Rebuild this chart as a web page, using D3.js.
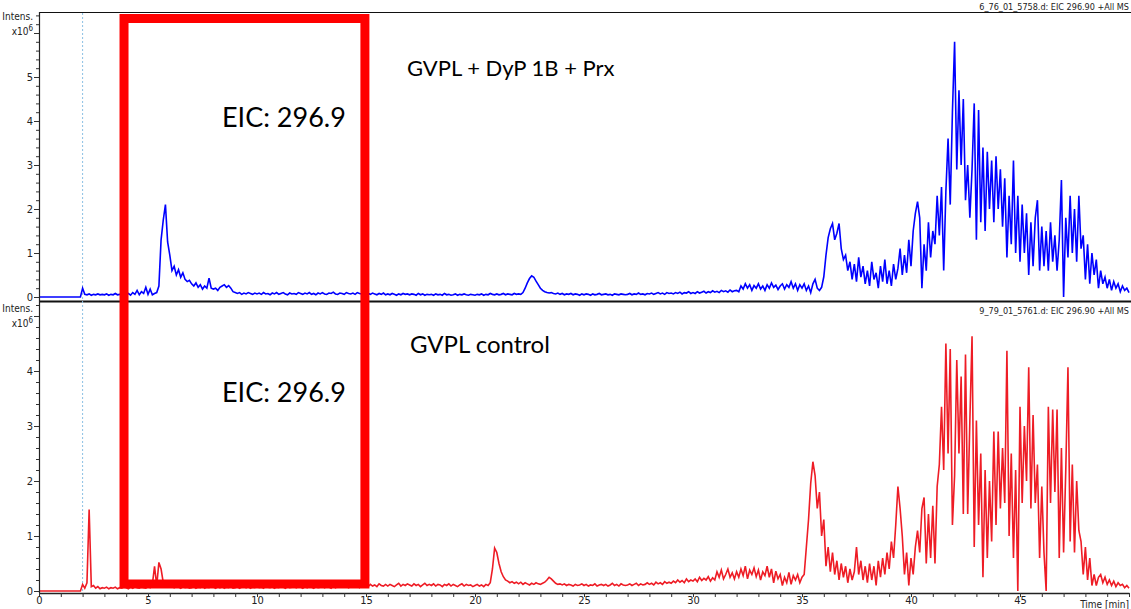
<!DOCTYPE html>
<html>
<head>
<meta charset="utf-8">
<script src="https://cdn.jsdelivr.net/npm/d3@7"></script>
<style>
  body { margin: 0; background: #fff; }
  svg { display: block; }
  .axis text, .lbl { font-family: "Liberation Sans Narrow", "Arial Narrow", "DejaVu Sans Condensed", sans-serif; font-size: 11px; fill: #222; }
  .note { font-family: Lato, Carlito, Calibri, "Open Sans", sans-serif; font-size: 22px; fill: #000; }
</style>
</head>
<body>
<svg width="1131" height="609"></svg>
<script>
// EIC traces, intensity in x10^6, one value every 0.1 min from 0 to 50 min
const step = 0.1;

// GVPL + DyP 1B + Prx (blue)
const blueValues = [
  0,0,0,0,0,0,0,0,0,0,
  0,0,0,0,0,0,0,0,0,0,
  0.2,0.06,0.05,0.07,0.04,0.06,0.05,0.07,0.05,0.06,
  0.05,0.07,0.04,0.06,0.05,0.08,0.05,0.06,0.04,0.07,
  0.05,0.08,0.04,0.1,0.06,0.15,0.05,0.12,0.08,0.22,
  0.06,0.18,0.05,0.08,0.1,0.25,1.3,1.75,2.1,1.25,
  0.95,0.6,0.7,0.5,0.62,0.45,0.55,0.4,0.35,0.38,
  0.3,0.25,0.32,0.22,0.28,0.18,0.25,0.2,0.43,0.2,
  0.18,0.2,0.15,0.22,0.25,0.28,0.22,0.26,0.2,0.12,
  0.1,0.08,0.1,0.06,0.09,0.07,0.1,0.08,0.06,0.09,
  0.07,0.09,0.06,0.1,0.07,0.08,0.05,0.09,0.07,0.1,
  0.06,0.08,0.1,0.07,0.05,0.09,0.07,0.08,0.06,0.1,
  0.08,0.06,0.09,0.07,0.1,0.06,0.08,0.05,0.09,0.07,
  0.1,0.07,0.06,0.09,0.08,0.11,0.07,0.06,0.09,0.08,
  0.06,0.1,0.08,0.07,0.09,0.06,0.1,0.08,0.07,0.09,
  0.05,0.08,0.06,0.09,0.07,0.05,0.08,0.06,0.09,0.05,
  0.07,0.05,0.08,0.06,0.04,0.07,0.05,0.08,0.06,0.07,
  0.05,0.07,0.06,0.04,0.08,0.05,0.07,0.04,0.06,0.05,
  0.06,0.04,0.07,0.05,0.06,0.04,0.08,0.05,0.06,0.04,
  0.05,0.07,0.04,0.06,0.05,0.07,0.05,0.04,0.06,0.05,
  0.04,0.06,0.05,0.07,0.04,0.06,0.05,0.08,0.06,0.05,
  0.07,0.05,0.06,0.08,0.05,0.07,0.06,0.05,0.08,0.06,
  0.07,0.06,0.1,0.2,0.32,0.42,0.48,0.45,0.36,0.28,
  0.2,0.15,0.12,0.1,0.09,0.1,0.08,0.07,0.09,0.06,
  0.08,0.05,0.07,0.06,0.08,0.05,0.07,0.06,0.04,0.07,
  0.05,0.07,0.06,0.04,0.07,0.05,0.06,0.08,0.05,0.06,
  0.07,0.05,0.06,0.04,0.07,0.06,0.05,0.07,0.06,0.05,
  0.06,0.08,0.05,0.07,0.06,0.09,0.06,0.07,0.05,0.08,
  0.07,0.09,0.06,0.08,0.1,0.07,0.09,0.06,0.1,0.08,
  0.09,0.07,0.1,0.08,0.11,0.07,0.1,0.09,0.12,0.08,
  0.1,0.08,0.12,0.09,0.11,0.13,0.09,0.12,0.1,0.14,
  0.11,0.13,0.1,0.15,0.12,0.14,0.11,0.16,0.12,0.14,
  0.15,0.12,0.25,0.18,0.3,0.2,0.28,0.15,0.26,0.2,
  0.3,0.18,0.25,0.15,0.28,0.2,0.32,0.22,0.27,0.17,
  0.25,0.3,0.18,0.28,0.22,0.35,0.2,0.3,0.15,0.28,
  0.2,0.3,0.15,0.25,0.1,0.3,0.4,0.2,0.15,0.22,
  0.46,0.95,1.35,1.55,1.67,1.3,1.45,1.67,1.1,0.85,
  0.95,0.6,0.8,0.4,0.75,0.35,0.9,0.45,0.7,0.3,
  0.6,0.25,0.8,0.4,0.55,0.2,0.7,0.35,0.85,0.3,
  0.6,0.25,0.75,0.4,0.65,1.1,0.5,0.95,0.55,1.3,
  0.7,1.5,1.9,2.17,1.8,0.2,1.2,0.6,1.7,0.9,
  1.5,1.2,2.3,1.4,2.5,0.6,2.4,3.6,2.1,4.2,
  5.8,2.9,4.7,3.0,4.5,2.2,3.0,1.8,2.9,4.4,
  1.3,4.25,1.7,3.4,1.5,3.3,2.0,3.1,1.7,3.2,
  2.0,2.9,1.6,2.7,0.9,2.3,1.2,3.1,1.0,2.3,
  0.8,2.1,1.0,1.9,0.5,1.7,0.7,1.8,2.2,0.6,
  1.6,0.7,1.5,0.6,1.7,0.8,1.4,0.6,1.3,2.66,
  0.0,1.8,0.9,2.3,1.0,2.0,0.8,2.3,1.1,1.4,
  0.4,1.2,0.3,1.0,0.5,0.85,0.2,0.6,0.3,0.45,
  0.2,0.4,0.15,0.35,0.2,0.3,0.12,0.25,0.15,0.2,
  0.1
];

// GVPL control (red)
const redValues = [
  0,0,0,0,0,0,0,0,0,0,
  0,0,0,0,0,0,0,0,0,0,
  0.12,0.05,0.15,1.48,0.08,0.1,0.05,0.08,0.04,0.06,
  0.05,0.07,0.04,0.06,0.05,0.07,0.04,0.06,0.05,0.07,
  0.06,0.04,0.07,0.05,0.08,0.06,0.05,0.07,0.06,0.05,
  0.08,0.06,0.12,0.45,0.1,0.52,0.4,0.15,0.08,0.1,
  0.07,0.09,0.06,0.08,0.07,0.05,0.08,0.06,0.07,0.05,
  0.06,0.08,0.05,0.07,0.06,0.09,0.05,0.07,0.06,0.08,
  0.07,0.05,0.08,0.06,0.09,0.05,0.07,0.06,0.08,0.05,
  0.06,0.08,0.05,0.07,0.09,0.06,0.08,0.05,0.07,0.06,
  0.08,0.06,0.07,0.05,0.09,0.07,0.06,0.08,0.05,0.07,
  0.06,0.09,0.07,0.05,0.08,0.06,0.07,0.09,0.06,0.08,
  0.07,0.05,0.08,0.06,0.1,0.07,0.05,0.08,0.06,0.07,
  0.09,0.06,0.08,0.07,0.05,0.09,0.06,0.08,0.07,0.1,
  0.07,0.09,0.06,0.08,0.1,0.07,0.09,0.06,0.11,0.08,
  0.1,0.08,0.12,0.09,0.11,0.08,0.13,0.1,0.09,0.12,
  0.09,0.12,0.1,0.08,0.11,0.14,0.09,0.12,0.1,0.13,
  0.11,0.09,0.13,0.1,0.12,0.08,0.11,0.14,0.1,0.12,
  0.1,0.13,0.09,0.12,0.11,0.08,0.12,0.1,0.13,0.09,
  0.12,0.1,0.08,0.11,0.13,0.09,0.12,0.1,0.11,0.08,
  0.1,0.12,0.09,0.11,0.08,0.12,0.1,0.15,0.4,0.78,
  0.7,0.5,0.35,0.26,0.2,0.18,0.15,0.17,0.14,0.16,
  0.13,0.16,0.12,0.15,0.13,0.11,0.14,0.12,0.15,0.13,
  0.12,0.14,0.16,0.2,0.25,0.22,0.18,0.14,0.12,0.13,
  0.11,0.13,0.1,0.12,0.11,0.09,0.12,0.1,0.11,0.13,
  0.1,0.12,0.09,0.11,0.1,0.13,0.09,0.11,0.12,0.1,
  0.12,0.09,0.11,0.14,0.1,0.12,0.09,0.13,0.11,0.1,
  0.11,0.13,0.1,0.12,0.14,0.1,0.13,0.11,0.12,0.15,
  0.12,0.14,0.11,0.16,0.13,0.15,0.12,0.17,0.14,0.16,
  0.14,0.18,0.15,0.2,0.16,0.19,0.15,0.22,0.17,0.2,
  0.18,0.22,0.17,0.25,0.19,0.23,0.2,0.26,0.18,0.24,
  0.2,0.35,0.25,0.38,0.22,0.3,0.4,0.25,0.33,0.22,
  0.35,0.25,0.4,0.28,0.45,0.22,0.38,0.3,0.42,0.26,
  0.38,0.2,0.35,0.28,0.45,0.25,0.4,0.15,0.36,0.22,
  0.3,0.1,0.25,0.15,0.34,0.12,0.28,0.2,0.3,0.15,
  0.25,0.3,0.8,1.3,1.96,2.35,2.1,1.5,1.8,1.0,
  1.3,0.45,0.8,0.35,0.7,0.3,0.55,0.2,0.5,0.25,
  0.45,0.15,0.4,0.2,0.35,0.8,0.3,0.55,0.2,0.45,
  0.15,0.5,0.2,0.45,0.1,0.55,0.25,0.6,0.3,0.7,
  0.4,0.9,0.6,1.2,1.9,1.5,1.0,0.3,0.7,0.1,
  0.6,0.3,0.8,1.1,0.7,1.5,1.7,0.5,1.4,0.6,
  1.55,0.5,1.9,2.3,3.35,2.2,4.5,2.5,4.4,1.2,
  2.1,4.2,2.5,3.9,1.4,4.3,1.4,3.1,4.63,0.8,
  3.1,1.2,2.5,0.25,2.2,0.6,2.0,0.9,2.9,1.2,
  2.9,1.5,2.6,1.6,4.37,1.0,2.5,0.6,2.2,0.0,
  3.35,1.6,3.0,2.0,4.07,1.5,3.2,1.6,2.3,0.6,
  1.9,0.7,0.0,3.35,1.6,3.3,1.8,3.3,0.6,2.6,
  0.7,2.2,4.07,0.9,2.3,0.7,2.0,1.1,0.9,0.3,
  0.8,0.2,0.6,0.1,0.3,0.1,0.25,0.3,0.15,0.25,
  0.12,0.2,0.1,0.18,0.08,0.15,0.1,0.12,0.06,0.1,
  0.05
];

// axis ticks
const xTicks = d3.range(0, 51, 1);
const xLabels = [0, 5, 10, 15, 20, 25, 30, 35, 40, 45];
const topMajor = [0, 1, 2, 3, 4, 5, 6];
const topLabels = [0, 1, 2, 3, 4, 5];
const bottomMajor = [0, 1, 2, 3, 4, 5];
const bottomLabels = [0, 1, 2, 3, 4];

// annotations
const fileTop = "6_76_01_5758.d: EIC 296.90 +All MS";
const fileBottom = "9_79_01_5761.d: EIC 296.90 +All MS";
const titleTop = "GVPL + DyP 1B + Prx";
const titleBottom = "GVPL control";
const eicLabel = "EIC: 296.9";
const markTime = 2.0;          // dashed marker (min)
const boxTimes = [3.9, 14.95]; // red box (min)

const svg = d3.select('svg');

// scales
const x = d3.scaleLinear().domain([0, 50]).range([39, 1129]);
const yTop = d3.scaleLinear().domain([0, 6.45]).range([297, 13.2]);
const yBot = d3.scaleLinear().domain([0, 5.2]).range([591, 305]);

// frame lines
svg.append('line').attr('x1', 39).attr('x2', 1131).attr('y1', 12.5).attr('y2', 12.5)
  .attr('stroke', '#111').attr('stroke-width', 1.2);
svg.append('line').attr('x1', 39).attr('x2', 1131).attr('y1', 301.5).attr('y2', 301.5)
  .attr('stroke', '#111').attr('stroke-width', 2.2);

// dashed marker line
svg.append('line')
  .attr('x1', x(markTime)).attr('x2', x(markTime))
  .attr('y1', 13).attr('y2', 593)
  .attr('stroke', '#8cc0e4').attr('stroke-width', 1)
  .attr('stroke-dasharray', '2,2');

// traces
const lineTop = d3.line().x((d, i) => x(i * step)).y(d => yTop(d));
const lineBot = d3.line().x((d, i) => x(i * step)).y(d => yBot(d));

svg.append('path').datum(blueValues)
  .attr('d', lineTop).attr('fill', 'none')
  .attr('stroke', '#0000ff').attr('stroke-width', 1.6)
  .attr('stroke-linejoin', 'miter');

svg.append('path').datum(redValues)
  .attr('d', lineBot).attr('fill', 'none')
  .attr('stroke', '#ee1c25').attr('stroke-width', 1.6)
  .attr('stroke-linejoin', 'miter');

// y axes: minor ticks every 0.2, labelled majors
function yAxis(scale, major, labels, top) {
  const g = svg.append('g').attr('class', 'axis').attr('transform', 'translate(39,0)');
  const minor = d3.range(0, top + 0.001, 0.2).filter(v => Math.abs(v - Math.round(v)) > 0.01);
  g.call(d3.axisLeft(scale).tickValues(minor).tickSize(3).tickFormat(''));
  g.append('g').call(d3.axisLeft(scale).tickValues(major).tickSize(5)
    .tickFormat(d => labels.includes(d) ? d : ''));
  g.selectAll('.domain').remove();
  g.selectAll('line').attr('stroke', '#333');
  g.selectAll('text').attr('x', -6);
}
yAxis(yTop, topMajor, topLabels, 6.4);
yAxis(yBot, bottomMajor, bottomLabels, 5.2);

// left axis line through both panels
svg.append('line').attr('x1', 39.5).attr('x2', 39.5).attr('y1', 12).attr('y2', 593)
  .attr('stroke', '#222').attr('stroke-width', 1.2);

// x axis
const xg = svg.append('g').attr('class', 'axis').attr('transform', 'translate(0,593)')
  .call(d3.axisBottom(x).tickValues(xTicks).tickSize(4).tickSizeOuter(0)
    .tickFormat(d => xLabels.includes(d) ? d : ''));
xg.select('.domain').attr('stroke', '#222').attr('stroke-width', 1.5);
xg.selectAll('line').attr('stroke', '#333');
xg.selectAll('text').attr('dy', '0.55em').attr('y', 5);

// axis captions
function intens(y) {
  svg.append('text').attr('class', 'lbl').attr('x', 33).attr('y', y)
    .attr('text-anchor', 'end').attr('dy', '0.35em').style('font-size', '10px').text('Intens.');
  const t = svg.append('text').attr('class', 'lbl').attr('x', 33).attr('y', y + 15)
    .attr('text-anchor', 'end').attr('dy', '0.35em').style('font-size', '10px');
  t.append('tspan').text('x10');
  t.append('tspan').attr('dy', '-0.4em').style('font-size', '8px').text('6');
}
intens(16);
intens(308);

svg.append('text').attr('class', 'lbl').attr('x', 1129).attr('y', 604)
  .attr('text-anchor', 'end').attr('dy', '0.35em').style('font-size', '10px').text('Time [min]');
svg.append('text').attr('class', 'lbl').attr('x', 1129).attr('y', 7)
  .attr('text-anchor', 'end').attr('dy', '0.35em').style('font-size', '9px').text(fileTop);
svg.append('text').attr('class', 'lbl').attr('x', 1129).attr('y', 311)
  .attr('text-anchor', 'end').attr('dy', '0.35em').style('font-size', '9px').text(fileBottom);

// red highlight box
svg.append('rect')
  .attr('x', x(boxTimes[0])).attr('y', 18.5)
  .attr('width', x(boxTimes[1]) - x(boxTimes[0])).attr('height', 584 - 18.5)
  .attr('fill', 'none').attr('stroke', '#ff0000').attr('stroke-width', 9);

// text notes
svg.append('text').attr('class', 'note').attr('x', 407).attr('y', 68).attr('dy', '0.35em').text(titleTop);
svg.append('text').attr('class', 'note').attr('x', 222).attr('y', 118).attr('dy', '0.35em')
  .style('font-size', '27px').text(eicLabel);
svg.append('text').attr('class', 'note').attr('x', 410).attr('y', 345).attr('dy', '0.35em')
  .style('font-size', '24px').text(titleBottom);
svg.append('text').attr('class', 'note').attr('x', 222).attr('y', 393).attr('dy', '0.35em')
  .style('font-size', '27px').text(eicLabel);
</script>
</body>
</html>
